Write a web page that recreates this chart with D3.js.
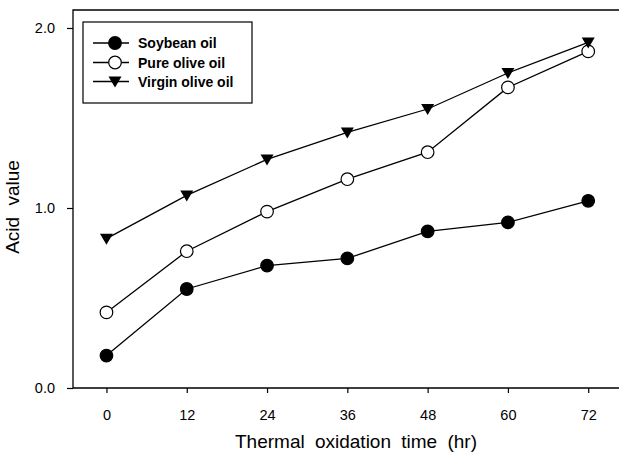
<!DOCTYPE html>
<html>
  <head>
    <meta charset="utf-8">
    <title>Acid value vs thermal oxidation time</title>
    <script src="https://d3js.org/d3.v7.min.js"></script>
    <style type="text/css">
    body { margin: 0; background: #fff; }
    text { font-family: "Liberation Sans", Arial, sans-serif; fill: #000; }
    .legend text { font-size: 14px; font-weight: bold; }
    </style>
  </head>
  <body>
  <script type="text/javascript">

    // hours of thermal oxidation
    var hours = [0, 12, 24, 36, 48, 60, 72];

    // acid values
    var soybean     = [0.18, 0.55, 0.68, 0.72, 0.87, 0.92, 1.04];
    var pureOlive   = [0.42, 0.76, 0.98, 1.16, 1.31, 1.67, 1.87];
    var virginOlive = [0.83, 1.07, 1.27, 1.42, 1.55, 1.75, 1.92];

    var seriesNames = ["Soybean oil", "Pure olive oil", "Virgin olive oil"];
    var xTicks = [0, 12, 24, 36, 48, 60, 72];
    var yTicks = [0, 1, 2];

    var series = [
      {name: seriesNames[0], values: soybean,     marker: "dot"},
      {name: seriesNames[1], values: pureOlive,   marker: "ring"},
      {name: seriesNames[2], values: virginOlive, marker: "tri"}
    ];

    var W = 619, H = 452;
    var pLeft = 73, pTop = 10, pRight = 619, pBottom = 388;

    var svg = d3.select("body").append("svg")
      .attr("width", W)
      .attr("height", H);

    var x = d3.scaleLinear().domain([-5, 76.6]).range([pLeft, pRight]);
    var y = d3.scaleLinear().domain([0, 2.1]).range([pBottom, pTop]);

    // frame (right edge is cut off in the original)
    svg.append("path")
      .attr("d", "M" + pRight + "," + pTop + "H" + pLeft + "V" + pBottom + "H" + pRight)
      .attr("fill", "none")
      .attr("stroke", "#000")
      .attr("stroke-width", 1.3);

    var xAxis = svg.append("g")
      .attr("transform", "translate(0," + pBottom + ")")
      .call(d3.axisBottom(x).tickValues(xTicks).tickSize(5).tickPadding(17).tickFormat(d3.format("d")));

    var yAxis = svg.append("g")
      .attr("transform", "translate(" + pLeft + ",0)")
      .call(d3.axisLeft(y).tickValues(yTicks).tickSize(6).tickPadding(12).tickFormat(d3.format(".1f")));

    [xAxis, yAxis].forEach(function(a) {
      a.select(".domain").remove();
      a.selectAll(".tick line").attr("stroke", "#000").attr("stroke-width", 1.2);
      a.selectAll(".tick text")
        .attr("fill", "#000")
        .style("font-family", "'Liberation Sans', Arial, sans-serif")
        .style("font-size", "14.5px");
    });

    // axis titles
    svg.append("text")
      .attr("x", 356)
      .attr("y", 448)
      .attr("text-anchor", "middle")
      .style("font-size", "19px")
      .style("word-spacing", "5px")
      .text("Thermal oxidation time (hr)");

    svg.append("text")
      .attr("transform", "translate(19,207) rotate(-90)")
      .attr("text-anchor", "middle")
      .style("font-size", "19px")
      .style("word-spacing", "6px")
      .text("Acid value");

    var line = d3.line()
      .x(function(d, i) { return x(hours[i]); })
      .y(function(d) { return y(d); });

    function drawMarker(g, type, cx, cy) {
      if (type === "tri") {
        var s = 13, h = 11;
        g.append("path")
          .attr("d", "M" + (cx - s / 2) + "," + (cy - h * 0.45) + "L" + (cx + s / 2) + "," + (cy - h * 0.45) + "L" + cx + "," + (cy + h * 0.55) + "Z")
          .attr("fill", "#000");
      } else {
        g.append("circle")
          .attr("cx", cx)
          .attr("cy", cy)
          .attr("r", 6.3)
          .attr("fill", type === "dot" ? "#000" : "#fff")
          .attr("stroke", "#000")
          .attr("stroke-width", 1.2);
      }
    }

    series.forEach(function(s) {
      var g = svg.append("g");
      g.append("path")
        .attr("d", line(s.values))
        .attr("fill", "none")
        .attr("stroke", "#000")
        .attr("stroke-width", 1.3);
      s.values.forEach(function(v, i) {
        drawMarker(g, s.marker, x(hours[i]), y(v));
      });
    });

    // legend
    var lg = svg.append("g").attr("class", "legend");
    lg.append("rect")
      .attr("x", 83).attr("y", 22)
      .attr("width", 169).attr("height", 81)
      .attr("fill", "#fff")
      .attr("stroke", "#000")
      .attr("stroke-width", 1.2);

    var rowY = [43, 62.5, 81.5];
    series.forEach(function(s, i) {
      lg.append("line")
        .attr("x1", 93).attr("x2", 129)
        .attr("y1", rowY[i]).attr("y2", rowY[i])
        .attr("stroke", "#000")
        .attr("stroke-width", 1.3);
      drawMarker(lg, s.marker, 115, rowY[i]);
      lg.append("text")
        .attr("x", 138)
        .attr("y", rowY[i] + 5)
        .text(s.name);
    });

  </script>
  </body>
</html>
